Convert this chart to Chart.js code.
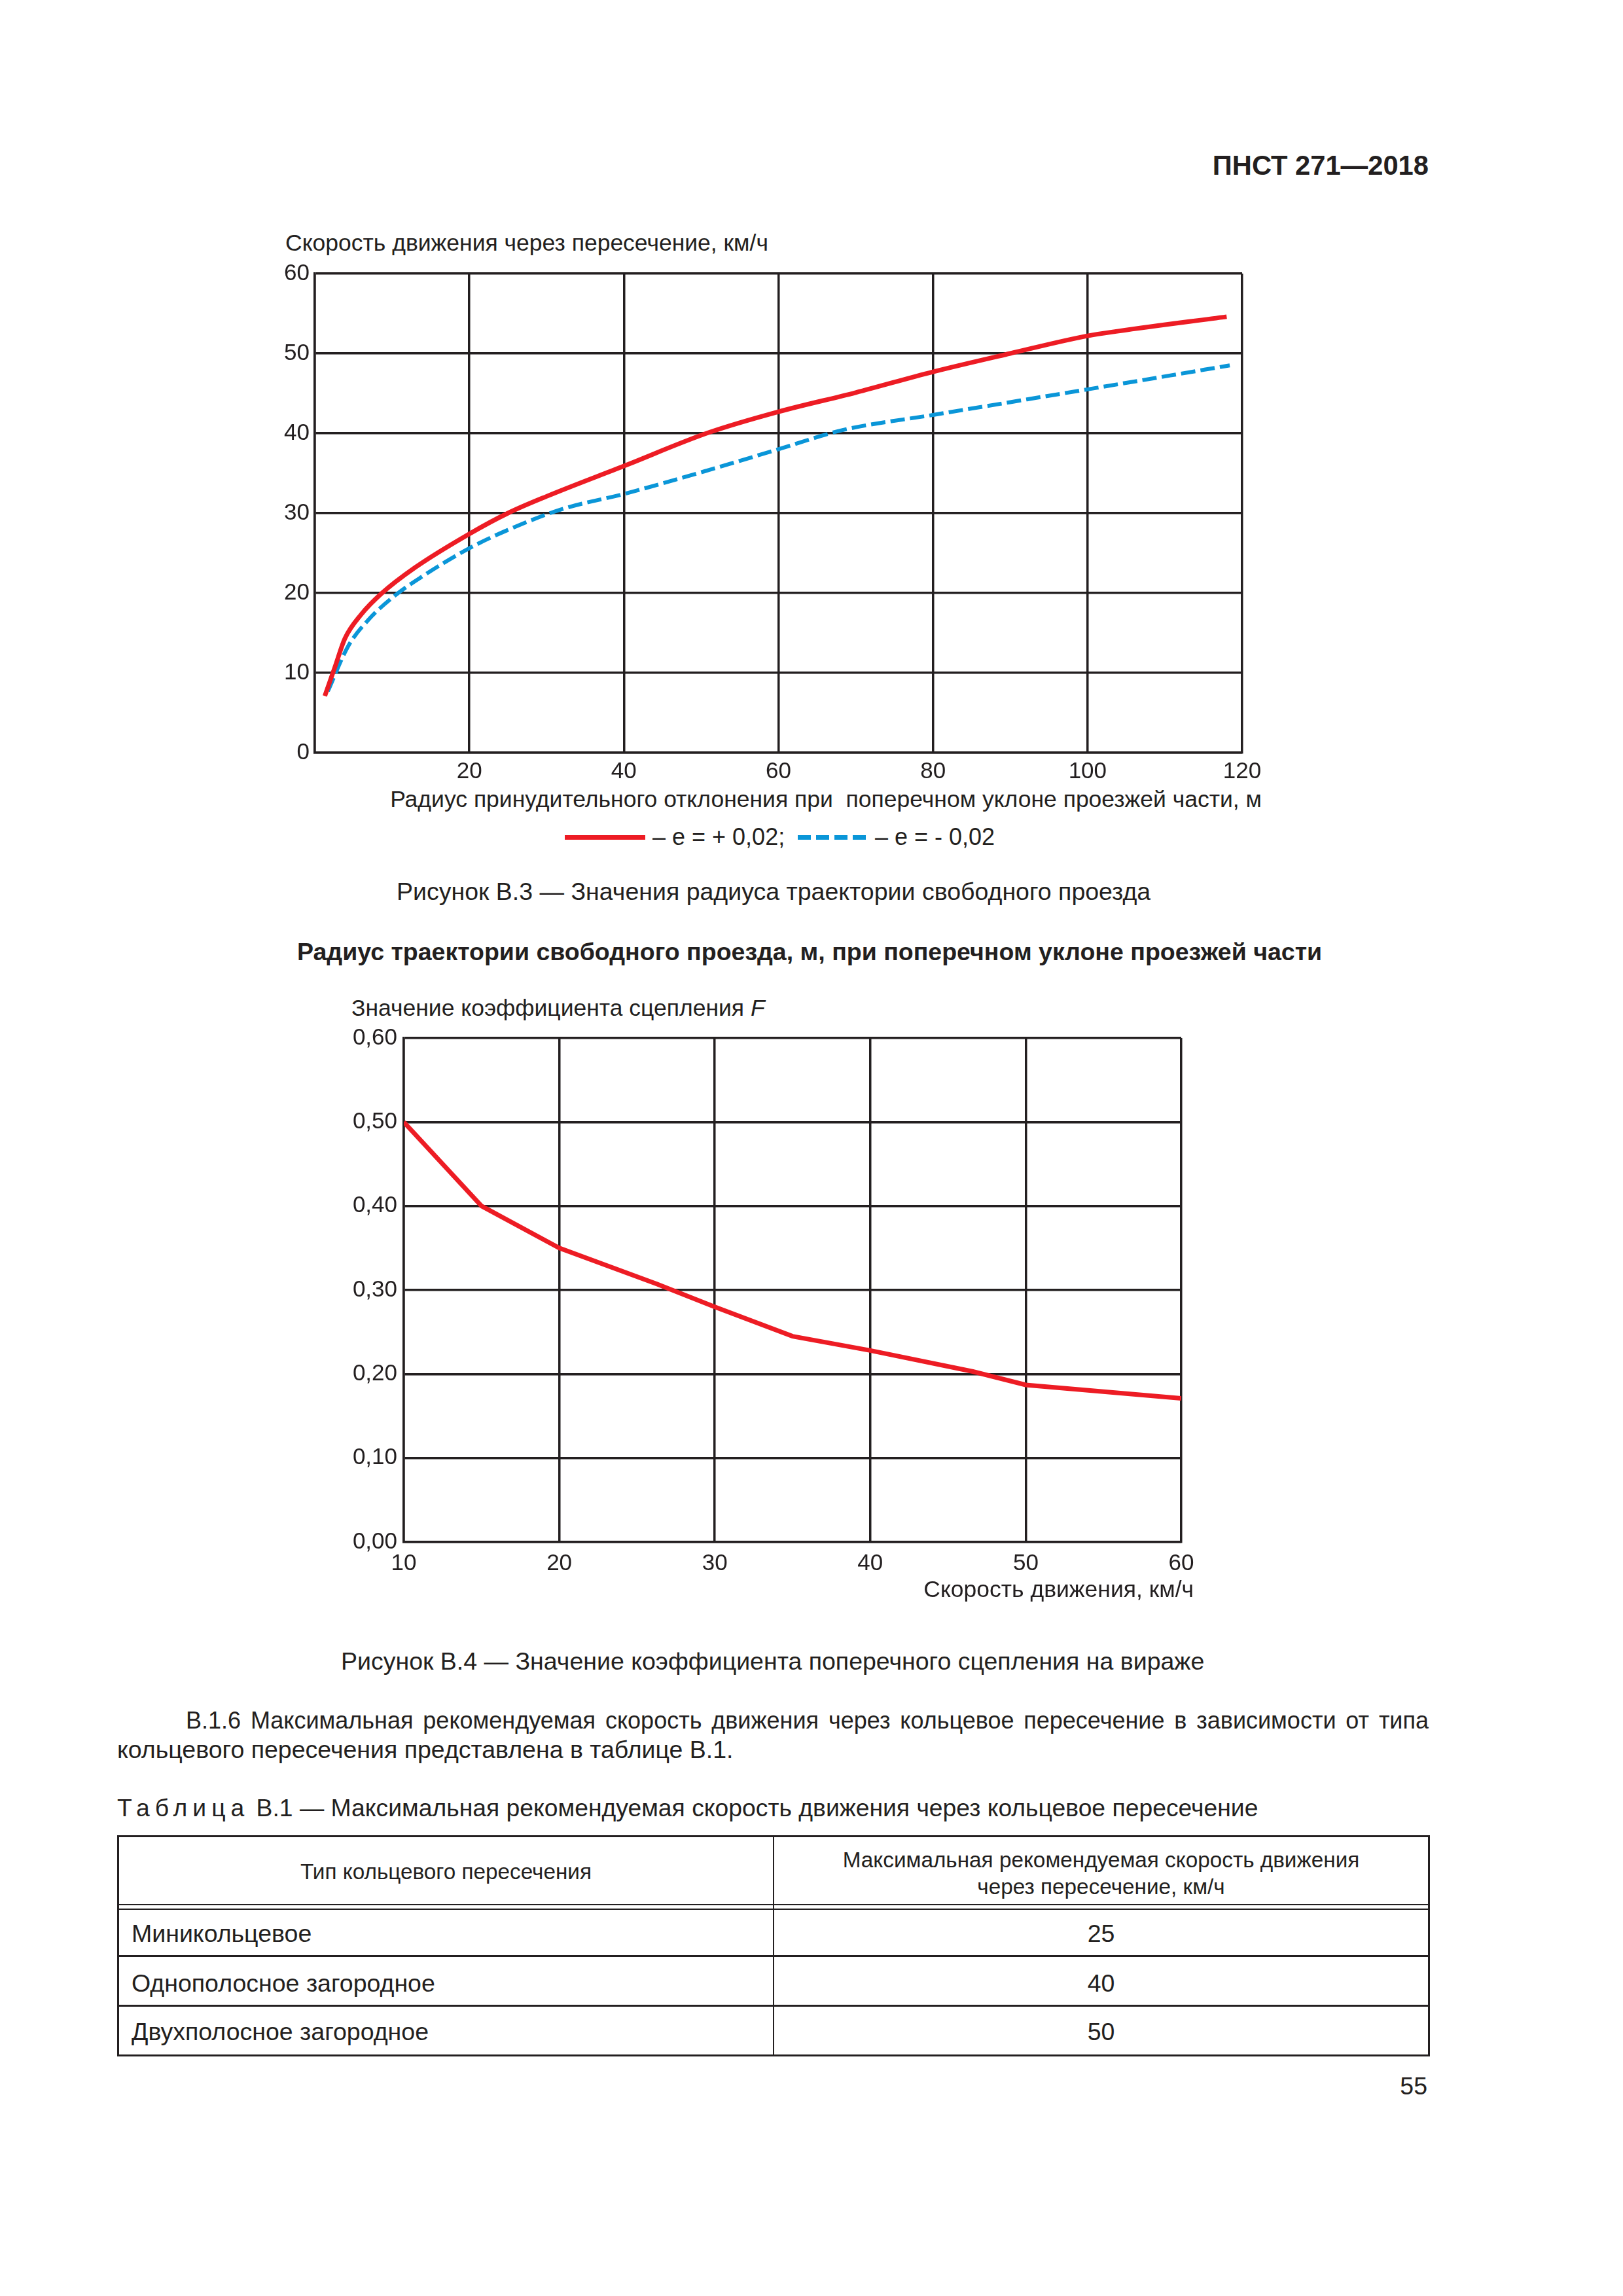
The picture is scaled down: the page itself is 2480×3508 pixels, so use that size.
<!DOCTYPE html>
<html lang="ru">
<head>
<meta charset="utf-8">
<script src="https://cdn.jsdelivr.net/npm/chart.js@4/dist/chart.umd.min.js"></script>
<style>
  html, body { margin: 0; padding: 0; background: #fff; }
  body { width: 2480px; height: 3508px; position: relative; overflow: hidden;
         font-family: 'Liberation Sans', Arial, sans-serif; color: #231f20; }
  .t { position: absolute; white-space: nowrap; font-size: 37.5px; line-height: 38px; }
  .hl { position: absolute; background: #231f20; }
  canvas { position: absolute; }
</style>
</head>
<body>

<div class="t" style="right:297px; top:232px; font-size:41.7px; line-height:42px; font-weight:bold;">ПНСТ 271—2018</div>

<!-- figure B.3 -->
<div class="t" style="left:436px; top:352px; font-size:35.5px;">Скорость движения через пересечение, км/ч</div>
<canvas id="chart_radius" width="1560" height="811" style="left:400px; top:389px;"></canvas>
<div class="t" style="right:552px; top:1202px; font-size:35.5px;">Радиус принудительного отклонения при&nbsp; поперечном уклоне проезжей части, м</div>

<div class="hl" style="left:863px; top:1276px; width:123px; height:7px; background:#ed1c24;"></div>
<div class="t" style="left:997px; top:1260px; font-size:36px;">– e = + 0,02;</div>
<div class="hl" style="left:1219px; top:1276px; width:104px; height:7px;
     background:repeating-linear-gradient(90deg, #0a96d8 0 20px, transparent 20px 28px);"></div>
<div class="t" style="left:1337px; top:1260px; font-size:36px;">– e = - 0,02</div>

<div class="t" style="left:606px; top:1343px;">Рисунок В.3 — Значения радиуса траектории свободного проезда</div>

<div class="t" style="left:454px; top:1435px; font-weight:bold;">Радиус траектории свободного проезда, м, при поперечном уклоне проезжей части</div>

<!-- figure B.4 -->
<div class="t" style="left:537px; top:1521px; font-size:35.5px;">Значение коэффициента сцепления <i>F</i></div>
<canvas id="chart_friction" width="1330" height="856" style="left:520px; top:1555px;"></canvas>
<div class="t" style="right:656px; top:2409px; font-size:35.5px;">Скорость движения, км/ч</div>

<div class="t" style="left:521px; top:2519px;">Рисунок В.4 — Значение коэффициента поперечного сцепления на вираже</div>

<div class="t" style="left:284px; top:2610px; width:1899px; font-size:36px; text-align:justify; text-align-last:justify; white-space:normal;">В.1.6 Максимальная рекомендуемая скорость движения через кольцевое пересечение в зависимости от типа</div>
<div class="t" style="left:179px; top:2654px;">кольцевого пересечения представлена в таблице В.1.</div>

<div class="t" style="left:179px; top:2743px; font-size:37.3px;"><span style="letter-spacing:8px">Таблица</span> В.1 — Максимальная рекомендуемая скорость движения через кольцевое пересечение</div>

<!-- table B.1 -->
<div class="hl" style="left:179px; top:2804px; width:2006px; height:3px;"></div>
<div class="hl" style="left:179px; top:2909px; width:2006px; height:2px;"></div>
<div class="hl" style="left:179px; top:2916px; width:2006px; height:2px;"></div>
<div class="hl" style="left:179px; top:2987px; width:2006px; height:3px;"></div>
<div class="hl" style="left:179px; top:3063px; width:2006px; height:3px;"></div>
<div class="hl" style="left:179px; top:3139px; width:2006px; height:3px;"></div>
<div class="hl" style="left:179px; top:2804px; width:3px; height:338px;"></div>
<div class="hl" style="left:1181px; top:2804px; width:2px; height:338px;"></div>
<div class="hl" style="left:2182px; top:2804px; width:3px; height:338px;"></div>

<div class="t" style="left:182px; width:999px; text-align:center; top:2843px; font-size:33.3px; line-height:34px;">Тип кольцевого пересечения</div>
<div class="t" style="left:1183px; width:999px; text-align:center; top:2825px; font-size:33.3px; line-height:34px;">Максимальная рекомендуемая скорость движения</div>
<div class="t" style="left:1183px; width:999px; text-align:center; top:2866px; font-size:33.3px; line-height:34px;">через пересечение, км/ч</div>

<div class="t" style="left:201px; top:2935px;">Миникольцевое</div>
<div class="t" style="left:201px; top:3011px;">Однополосное загородное</div>
<div class="t" style="left:201px; top:3085px;">Двухполосное загородное</div>
<div class="t" style="left:1183px; width:999px; text-align:center; top:2935px;">25</div>
<div class="t" style="left:1183px; width:999px; text-align:center; top:3011px;">40</div>
<div class="t" style="left:1183px; width:999px; text-align:center; top:3085px;">50</div>

<div class="t" style="right:299px; top:3168px;">55</div>

<script>
// figure B.3: radius (m) vs speed (km/h)
const radius_pos = [1.3, 2.6, 3.9, 6.0, 8.6, 13, 20, 25, 30, 40, 51, 60, 70, 80, 90, 100, 104, 118]
const speed_pos = [7.1, 10.7, 14.3, 17.3, 19.9, 23.2, 27.4, 30.0, 32.1, 35.9, 40.1, 42.7, 45.1, 47.7, 50.0, 52.2, 52.8, 54.6]
const radius_neg = [1.7, 4.3, 6.9, 10.4, 13.8, 20, 25, 32, 40, 51, 60, 68.3, 80, 90, 100, 118.4]
const speed_neg = [7.7, 13.3, 16.6, 19.7, 22.0, 25.6, 27.9, 30.5, 32.4, 35.4, 38.0, 40.4, 42.3, 43.9, 45.5, 48.5]
const radius_ticks = [0, 20, 40, 60, 80, 100, 120]
const speed_ticks = [0, 10, 20, 30, 40, 50, 60]

// figure B.4: speed (km/h) vs friction coefficient F
const speed_kmh = [10, 15, 20, 26.3, 30, 35, 40, 46.6, 50, 60]
const friction = [0.50, 0.40, 0.35, 0.307, 0.28, 0.245, 0.228, 0.203, 0.187, 0.171]
const speed_ticks_b4 = [10, 20, 30, 40, 50, 60]
const friction_ticks = [0, 0.1, 0.2, 0.3, 0.4, 0.5, 0.6]

const ink = '#231f20'
Chart.defaults.font.family = "'Liberation Sans', Arial, sans-serif"
Chart.defaults.color = ink

function to_points(xs, ys) {
    return xs.map((x, i) => ({ x: x, y: ys[i] }))
}

function axis(min, max, extra) {
    return {
        type: 'linear',
        min: min,
        max: max,
        afterBuildTicks: scale => { scale.ticks = extra.values.map(v => ({ value: v })) },
        ticks: { font: { size: 35 }, color: ink, padding: extra.padding, callback: extra.format },
        grid: { color: ink, lineWidth: 3.5, drawTicks: false },
        border: { color: ink, width: 3.5 },
        afterFit: extra.fit,
    }
}

new Chart(document.getElementById('chart_radius'), {
    type: 'line',
    data: {
        datasets: [
            {
                label: 'e = + 0,02',
                data: to_points(radius_pos, speed_pos),
                borderColor: '#ed1c24',
                borderWidth: 7,
                pointRadius: 0,
                cubicInterpolationMode: 'monotone',
            },
            {
                label: 'e = - 0,02',
                data: to_points(radius_neg, speed_neg),
                borderColor: '#0a96d8',
                borderWidth: 6,
                borderDash: [22, 8],
                pointRadius: 0,
                cubicInterpolationMode: 'monotone',
            },
        ]
    },
    options: {
        responsive: false,
        animation: false,
        devicePixelRatio: 1,
        layout: { padding: { top: 0, right: 62, bottom: 0, left: 0 } },
        plugins: { legend: { display: false }, tooltip: { enabled: false } },
        scales: {
            x: axis(0, 120, {
                values: radius_ticks, padding: 8,
                format: v => v === 0 ? '' : v, // no zero under the x axis
                fit: s => { s.height = 50 },
            }),
            y: axis(0, 60, {
                values: speed_ticks, padding: 8,
                format: v => v,
                fit: s => { s.width = 81 },
            }),
        }
    }
})

new Chart(document.getElementById('chart_friction'), {
    type: 'line',
    data: {
        datasets: [{
            label: 'F',
            data: to_points(speed_kmh, friction),
            borderColor: '#ed1c24',
            borderWidth: 7,
            pointRadius: 0,
            tension: 0,
        }]
    },
    options: {
        responsive: false,
        animation: false,
        devicePixelRatio: 1,
        layout: { padding: { top: 0, right: 45, bottom: 0, left: 0 } },
        plugins: { legend: { display: false }, tooltip: { enabled: false } },
        scales: {
            x: axis(10, 60, {
                values: speed_ticks_b4, padding: 12,
                format: v => v,
                fit: s => { s.height = 55 },
            }),
            y: axis(0, 0.6, {
                values: friction_ticks, padding: 10,
                format: v => v.toFixed(2).replace('.', ','),
                fit: s => { s.width = 97 },
            }),
        }
    }
})
</script>
</body>
</html>
